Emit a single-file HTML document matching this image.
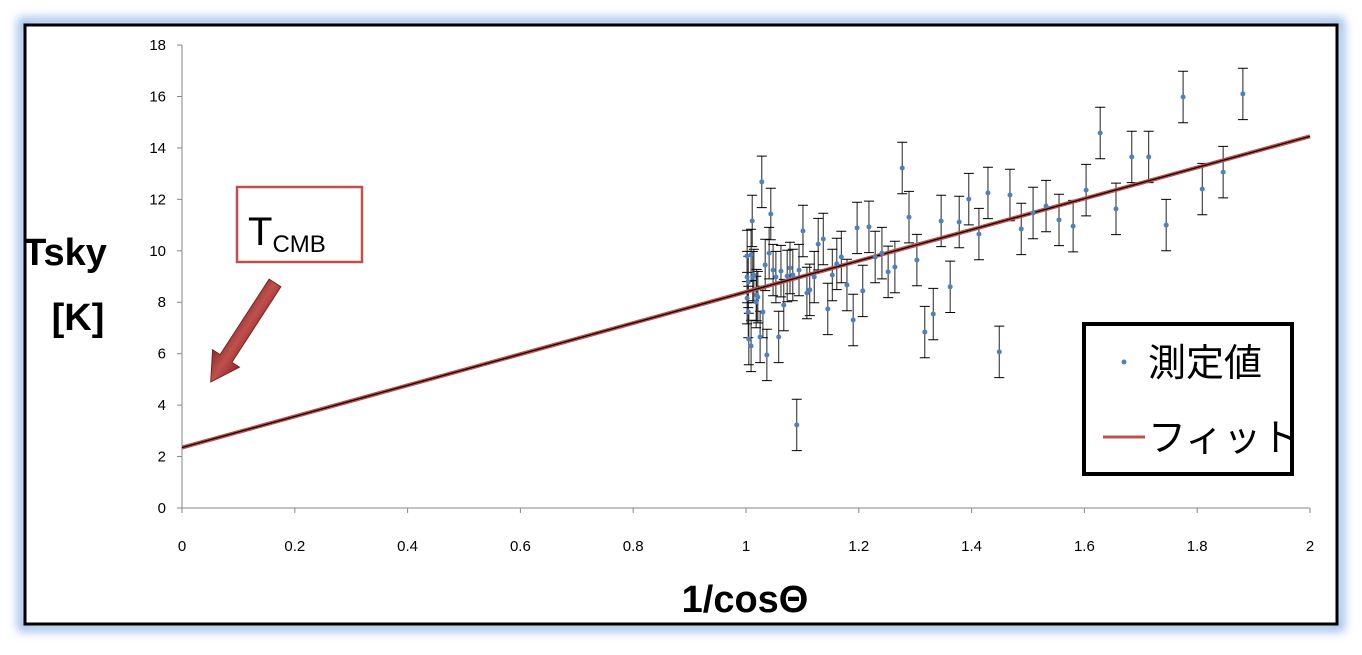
<!DOCTYPE html>
<html><head><meta charset="utf-8"><style>
body{margin:0;background:#fff;width:1362px;height:650px;overflow:hidden;font-family:"Liberation Sans","Noto Sans CJK JP",sans-serif}
</style></head><body>
<svg width="1362" height="650" xmlns="http://www.w3.org/2000/svg">
<defs>
<filter id="glow" x="-5%" y="-5%" width="110%" height="110%"><feGaussianBlur stdDeviation="5"/></filter>
<linearGradient id="arr" x1="0" y1="0" x2="1" y2="0"><stop offset="0" stop-color="#8b2c2a"/><stop offset="0.5" stop-color="#c0504d"/><stop offset="1" stop-color="#8b2c2a"/></linearGradient>
</defs>
<rect x="22" y="22" width="1318" height="605" fill="none" stroke="#8fb4e8" stroke-width="8" filter="url(#glow)"/>
<rect x="25" y="25" width="1312" height="599" fill="#fff" stroke="#000" stroke-width="3"/>
<g id="axes"></g>
<g id="marks"></g>
<text x="65" y="265" font-size="38" font-weight="bold" text-anchor="middle">Tsky</text>
<text x="78" y="330" font-size="38" font-weight="bold" text-anchor="middle">[K]</text>
<text x="745" y="612" font-size="38" font-weight="bold" text-anchor="middle">1/cosΘ</text>
<rect x="237" y="187" width="125" height="75" fill="#fff" stroke="#c0504d" stroke-width="2.5"/>
<text x="248" y="245" font-size="40">T<tspan font-size="24" dy="7">CMB</tspan></text>
<g transform="translate(275,283) rotate(33)">
<polygon points="-7,0 7,0 7,90 16,90 0,118 -16,90 -7,90" fill="url(#arr)" stroke="#7a2422" stroke-width="1"/>
</g>
<rect x="1084" y="324" width="208" height="150" fill="#fff" stroke="#000" stroke-width="4"/>
<circle cx="1124" cy="362" r="2.5" fill="#4f81bd"/>
<text x="1148" y="376" font-size="38">測定値</text>
<line x1="1103" y1="437" x2="1145" y2="437" stroke="#c0504d" stroke-width="3"/>
<text x="1148" y="451" font-size="38">フィット</text>
</svg>
<script>
const xTicks=[0,0.2,0.4,0.6,0.8,1,1.2,1.4,1.6,1.8,2];
const xTickLabels=["0","0.2","0.4","0.6","0.8","1","1.2","1.4","1.6","1.8","2"];
const yTicks=[0,2,4,6,8,10,12,14,16,18];
const xVals=[1.378,1.395,1.413,1.429,1.468,1.488,1.509,1.532,1.555,1.580,1.603,1.628,1.656,1.684,1.714,1.745,1.775,1.809,1.846,1.881,1.362,1.449,1.028,1.011,1.044,1.101,1.128,1.137,1.197,1.218,1.277,1.289,1.346,1.303,1.241,1.229,1.252,1.264,1.332,1.317,1.207,1.190,1.179,1.169,1.161,1.153,1.145,1.121,1.113,1.108,1.094,1.083,1.078,1.073,1.067,1.062,1.058,1.053,1.048,1.041,1.034,1.037,1.030,1.025,1.090,1.021,1.018,1.014,1.012,1.009,1.005,1.004,1.002,1.004,1.002,1.009,1.002,1.019];
const yVals=[11.12,12.01,10.65,12.25,12.17,10.85,11.47,11.74,11.20,10.96,12.36,14.58,11.63,13.65,13.65,11.0,15.98,12.40,13.06,16.1,8.6,6.07,12.68,11.16,11.43,10.77,10.26,10.46,10.89,10.93,13.22,11.31,11.16,9.64,9.91,9.76,9.18,9.37,7.54,6.84,8.44,7.31,8.67,9.76,9.49,9.06,7.74,8.98,8.48,8.36,9.25,9.06,9.33,9.02,7.89,9.21,6.65,8.98,9.25,9.91,9.45,5.95,7.62,6.65,3.23,8.2,8.01,9.06,8.98,6.3,6.57,7.62,8.16,8.79,9.8,9.84,8.98,8.28];
const errVal=1.0;
const fitIntercept=2.35;
const fitSlope=6.05;
const NS="http://www.w3.org/2000/svg";
const X=v=>182+v*564, Y=v=>508-v*25.72;
function mk(p,t,a){const e=document.createElementNS(NS,t);for(const k in a)e.setAttribute(k,a[k]);p.appendChild(e);return e;}
const ax=document.getElementById('axes'), mg=document.getElementById('marks');
let e=mk(ax,'line',{x1:X(0),y1:Y(0),x2:X(2),y2:Y(0),stroke:'#868686','stroke-width':1});

e=mk(ax,'line',{x1:X(0),y1:Y(0),x2:X(0),y2:Y(18),stroke:'#868686','stroke-width':1});

xTicks.forEach((t,i)=>{
 e=mk(ax,'line',{x1:X(t),y1:Y(0),x2:X(t),y2:Y(0)+5,stroke:'#868686'});
 
 e=mk(ax,'text',{x:X(t),y:551,'font-size':15,'text-anchor':'middle',fill:'#000'});e.textContent=xTickLabels[i];
 
});
yTicks.forEach(t=>{
 e=mk(ax,'line',{x1:X(0)-5,y1:Y(t),x2:X(0),y2:Y(t),stroke:'#868686'});
 
 e=mk(ax,'text',{x:166,y:Y(t)+5,'font-size':15,'text-anchor':'end',fill:'#000'});e.textContent=String(t);
 
});
xVals.forEach((xv,i)=>{
 const cx=X(xv),y1=Y(yVals[i]-errVal),y2=Y(yVals[i]+errVal);
 e=mk(mg,'line',{x1:cx,y1:y1,x2:cx,y2:y2,stroke:'#222','stroke-width':1});
 
 e=mk(mg,'path',{d:`M${cx-5},${y1}H${cx+5}M${cx-5},${y2}H${cx+5}`,stroke:'#000','stroke-width':1});
 
});
e=mk(mg,'line',{x1:X(0),y1:Y(fitIntercept),x2:X(2),y2:Y(fitIntercept+2*fitSlope),stroke:'#c0504d','stroke-width':4});

e=mk(mg,'line',{x1:X(0),y1:Y(fitIntercept),x2:X(2),y2:Y(fitIntercept+2*fitSlope),stroke:'#000','stroke-width':1.2});

xVals.forEach((xv,i)=>{
 e=mk(mg,'circle',{cx:X(xv),cy:Y(yVals[i]),r:2.5,fill:'#4f81bd'});
 
});
</script>
</body></html>
